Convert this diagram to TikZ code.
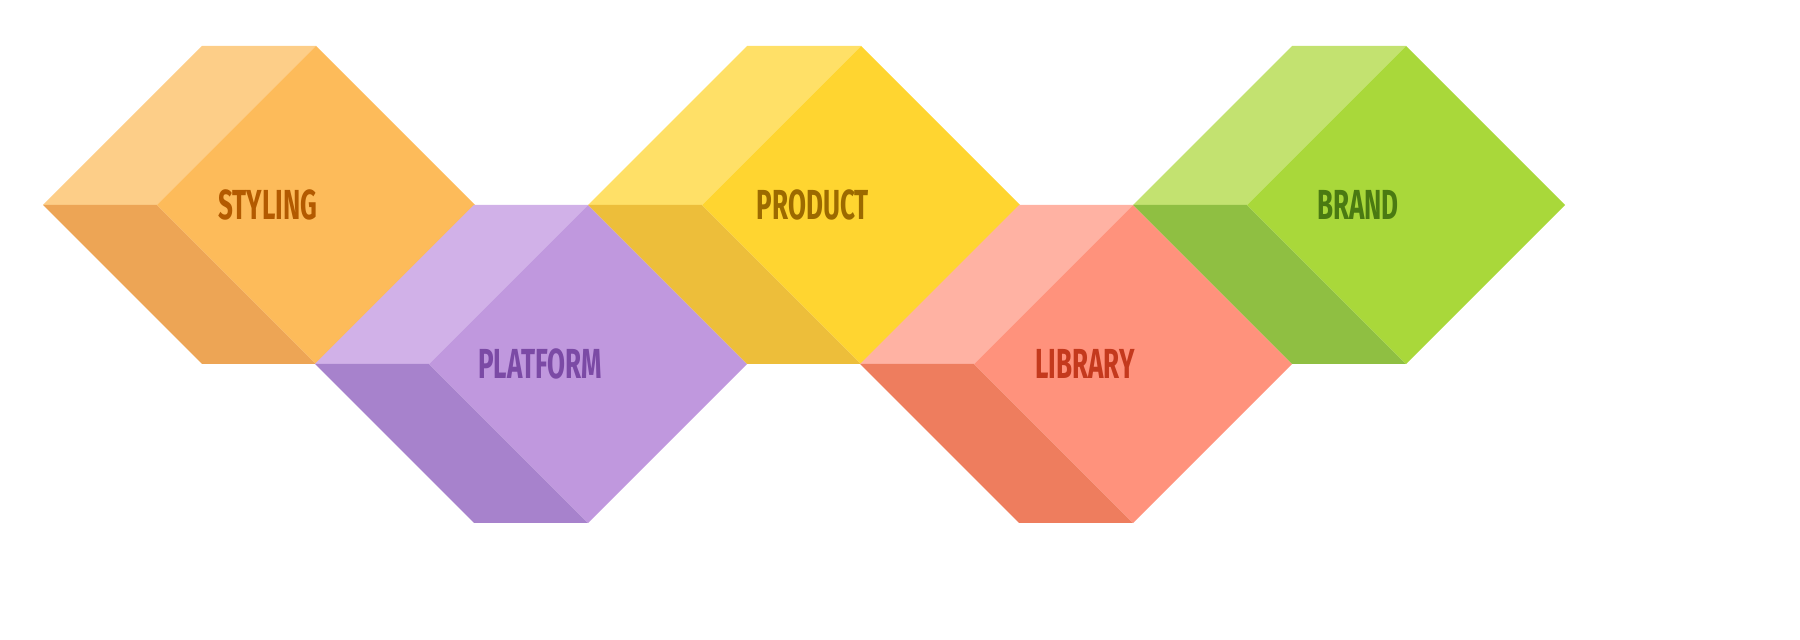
\documentclass[tikz,border=0pt]{standalone}
\usepackage{fontspec}
\setmainfont{Fira Sans}
\begin{document}
\begin{tikzpicture}[x=0.5pt,y=-0.5pt,
  lbl/.style={font=\fontsize{21}{21}\selectfont\bfseries, inner sep=0}]
\foreach \X/\Y/\lc/\mc/\dc/\tc/\t/\n in {
 316/46/FDCE88/FDBB5A/EDA555/B35A00/STYLING/sty,
 588/205/D1B1E8/C098DE/A782CC/7B4AA5/PLATFORM/pla,
 861/46/FFE067/FFD530/EDBE3A/9C6A00/PRODUCT/pro,
 1133/205/FFB2A3/FF927C/EE7D5E/C4391D/LIBRARY/lib,
 1406/46/C3E270/A9D83A/8FBF42/4A7A12/BRAND/bra}{
 \definecolor{lc}{HTML}{\lc}\definecolor{mc}{HTML}{\mc}
 \definecolor{dc}{HTML}{\dc}\definecolor{tc}{HTML}{\tc}
 \fill[lc] (\X-114,\Y) -- (\X,\Y) -- (\X-159,\Y+159) -- (\X-273,\Y+159) -- cycle;
 \fill[dc] (\X-273,\Y+159) -- (\X-159,\Y+159) -- (\X,\Y+318) -- (\X-114,\Y+318) -- cycle;
 \fill[mc] (\X,\Y) -- (\X+159,\Y+159) -- (\X,\Y+318) -- (\X-159,\Y+159) -- cycle;
 \node[lbl,text=tc] (\n) at (\X-48,\Y+159) {\scalebox{0.62}[1]{\t}};
}
\pgfresetboundingbox
\path[use as bounding box] (0,0) rectangle (1800,640);
\end{tikzpicture}
\end{document}
